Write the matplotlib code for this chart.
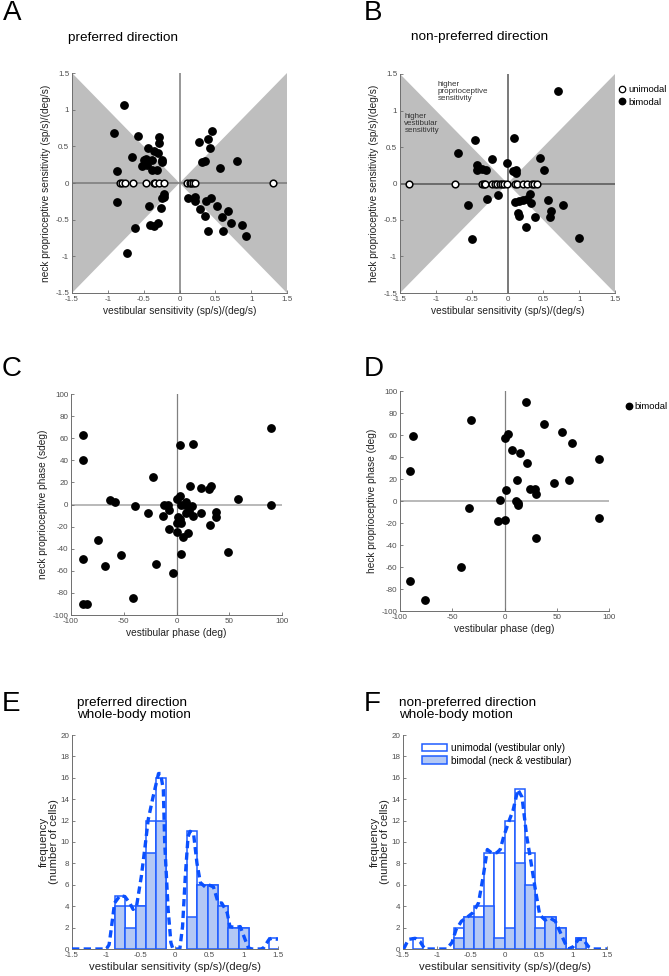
import numpy as np
import matplotlib
matplotlib.use('Agg')
import matplotlib.pyplot as plt
from matplotlib.ticker import FuncFormatter
from matplotlib.patches import Patch
from matplotlib.lines import Line2D

plt.rcParams['font.family'] = ['Liberation Sans', 'DejaVu Sans']
plt.rcParams['axes.unicode_minus'] = False

## Data

# A: preferred direction, sensitivities
prefBiX = [-0.78, -0.91, -0.58, -0.28, -0.28, -0.44, -0.35, -0.30, -0.66, -0.50,
           -0.47, -0.39, -0.25, -0.24, -0.53, -0.46, -0.39, -0.32, -0.87, -0.87,
           -0.21, -0.22, -0.24, -0.42, -0.26, -0.62, -0.41, -0.35, -0.30, -0.73,
           0.46, 0.40, 0.27, 0.43, 0.35, 0.32, 0.57, 0.80, 0.12, 0.21,
           0.22, 0.28, 0.37, 0.44, 0.36, 0.40, 0.53, 0.59, 0.67, 0.61,
           0.72, 0.87, 0.93]
prefBiY = [1.065, 0.68, 0.64, 0.63, 0.54, 0.48, 0.44, 0.41, 0.35, 0.31,
           0.33, 0.31, 0.32, 0.28, 0.23, 0.24, 0.18, 0.18, 0.17, -0.26,
           -0.15, -0.19, -0.20, -0.31, -0.34, -0.61, -0.57, -0.58, -0.55, -0.96,
           0.71, 0.60, 0.56, 0.48, 0.30, 0.28, 0.20, 0.30, -0.20, -0.19,
           -0.25, -0.35, -0.25, -0.20, -0.45, -0.66, -0.31, -0.46, -0.38, -0.65,
           -0.55, -0.57, -0.72]
prefUniX = [-0.83, -0.80, -0.76, -0.65, -0.47, -0.36, -0.34, -0.28, -0.21,
            0.10, 0.14, 0.16, 0.19, 0.21, 1.31]
prefUniY = [0] * len(prefUniX)

# B: non-preferred direction
npBiX = [0.71, -0.45, -0.69, 0.09, 0.46, -0.21, -0.01, -0.42, -0.42, -0.36,
         -0.30, 0.07, 0.12, 0.12, 0.51, -0.13, -0.28, -0.55, -0.49, 0.10,
         0.16, 0.21, 0.27, 0.31, 0.33, 0.14, 0.16, 0.26, 0.38, 0.56,
         0.60, 0.59, 0.77, 1.00]
npBiY = [1.27, 0.59, 0.42, 0.63, 0.35, 0.34, 0.28, 0.25, 0.19, 0.20,
         0.19, 0.17, 0.19, 0.14, 0.19, -0.16, -0.21, -0.30, -0.76, -0.25,
         -0.24, -0.22, -0.21, -0.15, -0.27, -0.41, -0.44, -0.59, -0.46, -0.22,
         -0.37, -0.46, -0.30, -0.74]
npUniX = [-1.37, -0.73, -0.36, -0.33, -0.31, -0.21, -0.17, -0.14, -0.11, -0.08,
          -0.05, -0.01, 0.10, 0.13, 0.21, 0.27, 0.34, 0.37, 0.41]
npUniY = [0] * len(npUniX)

# C: phases, preferred
phPrefX = [-89, -89, -89, -89, -85, -74, -68, -63, -58, -53,
           -41, -39, -27, -22, -19, -13, -12, -8, -7, -7,
           -3, 0, 3, 3, 1, 0, 3, 4, 0, 4,
           6, 4, 8, 9, 9, 11, 13, 12, 15, 16,
           16, 23, 23, 31, 33, 32, 37, 37, 49, 58,
           90, 90]
phPrefY = [63, 40, -49, -90, -90, -32, -56, 4, 2, -46,
           -85, -1, -8, 25, -54, -10, 0, 0, -5, -22,
           -62, 5, 8, 54, -11, -17, -13, -17, -25, 0,
           -29, -45, 0, 2, -8, -26, 17, -6, -1, -10,
           55, 15, -8, 14, 17, -19, -7, -11, -43, 5,
           69, 0]

# D: phases, non-preferred
phNpX = [-90, -88, -90, -76, -42, -34, -32, -6, -4, 0,
         0, 3, 1, 7, 11, 12, 13, 13, 15, 21,
         22, 24, 29, 30, 30, 38, 47, 55, 62, 65,
         90, 90]
phNpY = [27, 59, -73, -90, -60, -6, 74, -18, 1, -17,
         57, 61, 10, 46, 0, 19, -2, -4, 44, 90,
         35, 11, 11, 6, -34, 70, 16, 63, 19, 53,
         38, -15]

# E: histogram preferred
histPrefCenters = [-0.8, -0.65, -0.5, -0.35, -0.2, -0.05, 0.1, 0.25, 0.4, 0.55,
                   0.7, 0.85, 1.0, 1.15, 1.3, 1.45]
histPrefAll = [5, 4, 4, 12, 16, 0, 0, 11, 6, 6, 4, 2, 2, 0, 0, 1]
histPrefBi = [4, 2, 4, 9, 12, 0, 0, 3, 6, 6, 4, 2, 2, 0, 0, 0]
fitPrefX = [-1.5, -1.0, -0.96, -0.93, -0.88, -0.80, -0.73, -0.66, -0.61, -0.56,
            -0.49, -0.43, -0.39, -0.32, -0.24, -0.21, -0.17, -0.15, -0.10, -0.06,
            -0.03, 0.07, 0.11, 0.15, 0.19, 0.22, 0.27, 0.32, 0.37, 0.44,
            0.49, 0.56, 0.63, 0.68, 0.76, 0.80, 0.88, 0.95, 1.02, 1.07,
            1.12, 1.25, 1.29, 1.37, 1.41, 1.5]
fitPrefY = [0, 0, 0.4, 1.8, 4.3, 5.0, 4.9, 4.3, 3.7, 4.0,
            6.8, 9.9, 12.1, 14.2, 16.4, 16.4, 14.9, 9.9, 3.7, 0.6,
            0, 0, 2.1, 6.8, 10.5, 11, 10.8, 8.0, 6.2, 5.8,
            6.0, 5.8, 4.3, 4.3, 3.4, 2.1, 2.0, 2.1, 0.9, 0.1,
            0, 0, 0.1, 0.9, 1.0, 0.9]

# F: histogram non-preferred
histNpCenters = [-1.28, -1.13, -0.98, -0.83, -0.68, -0.53, -0.38, -0.23, -0.08, 0.07,
                 0.22, 0.37, 0.52, 0.67, 0.82, 0.97, 1.12]
histNpAll = [1, 0, 0, 0, 2, 3, 4, 9, 9, 12, 15, 9, 3, 3, 2, 0, 1]
histNpBi = [0, 0, 0, 0, 1, 3, 3, 4, 1, 2, 8, 6, 2, 3, 2, 0, 1]
fitNpX = [-1.49, -1.42, -1.32, -1.25, -1.18, -0.86, -0.78, -0.72, -0.64, -0.55,
          -0.47, -0.39, -0.32, -0.26, -0.20, -0.12, -0.07, -0.02, 0.05, 0.12,
          0.19, 0.25, 0.32, 0.37, 0.44, 0.51, 0.59, 0.66, 0.74, 0.81,
          0.88, 0.93, 1.0, 1.08, 1.15, 1.23, 1.30, 1.5]
fitNpY = [0, 0.9, 1.0, 0.7, 0, 0, 0.6, 1.8, 2.6, 3.0,
          3.4, 4.3, 6.8, 9.3, 9.0, 9.0, 9.3, 10.5, 11.8, 13,
          14.9, 14.2, 10.5, 8.6, 5.8, 3.2, 2.7, 2.9, 2.6, 1.6,
          0.6, 0, 0.2, 0.9, 0.9, 0.2, 0, 0]

binWidth = 0.15

## Style
W, H = 669, 976
tickGrey = '#4d4d4d'
spineGrey = '#6e6e6e'
shadeGrey = '#bebebe'
blueEdge = '#1f5cff'
blueFill = '#b3c8f5'
blueLine = '#0a50ff'
fmt = FuncFormatter(lambda v, p: '%g' % v)

fig = plt.figure(figsize=(W / 100, H / 100), dpi=100)


def px_axes(left, top, right, bottom):
    return fig.add_axes([left / W, 1 - bottom / H, (right - left) / W, (bottom - top) / H])


def style_axes(ax, xlabel, ylabel, labsize=7.3, ypad=3):
    for s in ['top', 'right']:
        ax.spines[s].set_visible(False)
    for s in ['left', 'bottom']:
        ax.spines[s].set_color(spineGrey)
        ax.spines[s].set_linewidth(0.7)
    ax.tick_params(direction='in', length=2, width=0.6, colors=spineGrey,
                   labelsize=5.8, labelcolor=tickGrey, pad=2)
    ax.xaxis.set_major_formatter(fmt)
    ax.yaxis.set_major_formatter(fmt)
    ax.set_xlabel(xlabel, fontsize=labsize, color='#222222', labelpad=2)
    ax.set_ylabel(ylabel, fontsize=labsize, color='#222222', labelpad=ypad)


def sens_panel(ax, biX, biY, uniX, uniY, ylabel, lineCol):
    lim = 1.5
    ax.fill([-lim, 0, -lim], [lim, 0, -lim], color=shadeGrey, lw=0, zorder=0)
    ax.fill([lim, 0, lim], [lim, 0, -lim], color=shadeGrey, lw=0, zorder=0)
    ax.axhline(0, color=lineCol, lw=1.1, zorder=1)
    ax.axvline(0, color=lineCol, lw=1.1, zorder=1)
    ax.plot(biX, biY, 'o', color='black', ms=5.3, zorder=3, label='bimodal')
    ax.plot(uniX, uniY, 'o', mfc='white', mec='black', mew=1.1, ms=4.8, zorder=4,
            label='unimodal')
    ax.set_xlim(-lim, lim)
    ax.set_ylim(-lim, lim)
    ax.set_xticks(np.arange(-1.5, 1.51, 0.5))
    ax.set_yticks(np.arange(-1.5, 1.51, 0.5))
    style_axes(ax, 'vestibular sensitivity (sp/s)/(deg/s)', ylabel)


def phase_panel(ax, px, py, ylabel):
    ax.axhline(0, color='#a6a6a6', lw=1.1, zorder=1)
    ax.axvline(0, color='#808080', lw=0.9, zorder=1)
    ax.plot(px, py, 'o', color='black', ms=5.3, zorder=3)
    ax.set_xlim(-100, 100)
    ax.set_ylim(-100, 100)
    ax.set_xticks(np.arange(-100, 101, 50))
    ax.set_yticks(np.arange(-100, 101, 20))
    style_axes(ax, 'vestibular phase (deg)', ylabel)


def hist_panel(ax, centers, allCounts, biCounts, fitX, fitY):
    c = np.array(centers)
    a = np.array(allCounts)
    b = np.array(biCounts)
    ax.bar(c[a > 0], a[a > 0], width=binWidth, facecolor='white', edgecolor=blueEdge,
           lw=1.1, zorder=2)
    ax.bar(c[b > 0], b[b > 0], width=binWidth, facecolor=blueFill, edgecolor=blueEdge,
           lw=1.1, zorder=3)
    ax.plot(fitX, fitY, color=blueLine, lw=2.4, dashes=(2.2, 1.3), zorder=4,
            solid_capstyle='butt', dash_capstyle='butt')
    ax.set_xlim(-1.5, 1.5)
    ax.set_ylim(0, 20)
    ax.set_xticks(np.arange(-1.5, 1.51, 0.5))
    ax.set_yticks(np.arange(0, 21, 2))
    style_axes(ax, 'vestibular sensitivity (sp/s)/(deg/s)',
               'frequency\n(number of cells)', labsize=8.2, ypad=1)
    ax.yaxis.label.set_linespacing(0.95)


## Panels
axA = px_axes(72, 73, 287, 293)
sens_panel(axA, prefBiX, prefBiY, prefUniX, prefUniY,
           'neck proprioceptive sensitivity (sp/s)/(deg/s)', '#7a7a7a')

axB = px_axes(400, 74, 615, 293)
sens_panel(axB, npBiX, npBiY, npUniX, npUniY,
           'heck proprioceptive sensitivity (sp/s)/(deg/s)', '#555555')
axB.text(-0.97, 1.40, 'higher\nproprioceptive\nsensitivity', fontsize=5.8,
         color='#333333', va='top', ha='left', linespacing=1.0)
axB.text(-1.44, 0.97, 'higher\nvestibular\nsensitivity', fontsize=5.8,
         color='#333333', va='top', ha='left', linespacing=1.0)
hB = [Line2D([], [], ls='', marker='o', mfc='white', mec='black', mew=0.9, ms=4.6),
      Line2D([], [], ls='', marker='o', color='black', ms=4.6)]
axB.legend(hB, ['unimodal', 'bimodal'], loc='upper left', bbox_to_anchor=(0.99, 0.98),
           frameon=False, fontsize=6.8, handlelength=0.6, handletextpad=0.3,
           labelspacing=0.4, borderpad=0.2)

axC = px_axes(71, 394, 282, 615)
phase_panel(axC, phPrefX, phPrefY, 'neck proprioceptive phase (sdeg)')

axD = px_axes(400, 391, 609, 611)
phase_panel(axD, phNpX, phNpY, 'heck proprioceptive phase (deg)')
axD.legend([Line2D([], [], ls='', marker='o', color='black', ms=4.6)], ['bimodal'],
           loc='upper left', bbox_to_anchor=(1.05, 0.98), frameon=False, fontsize=6.8,
           handlelength=0.6, handletextpad=0.3, borderpad=0.2)

axE = px_axes(72, 735, 278, 949)
hist_panel(axE, histPrefCenters, histPrefAll, histPrefBi, fitPrefX, fitPrefY)

axF = px_axes(403, 735, 607, 949)
hist_panel(axF, histNpCenters, histNpAll, histNpBi, fitNpX, fitNpY)
hF = [Patch(facecolor='white', edgecolor=blueEdge, lw=1.1),
      Patch(facecolor=blueFill, edgecolor=blueEdge, lw=1.1)]
axF.legend(hF, ['unimodal (vestibular only)', 'bimodal (neck & vestibular)'],
           loc='upper left', bbox_to_anchor=(0.06, 0.995), frameon=False, fontsize=7.2,
           handlelength=2.5, handleheight=0.8, handletextpad=0.4, labelspacing=0.25,
           borderpad=0.2)

## Titles and panel letters
def ftext(x, y, s, **kw):
    fig.text(x / W, 1 - y / H, s, **kw)


ftext(3, 0, 'A', fontsize=20, va='top')
ftext(364, 0, 'B', fontsize=20, va='top')
ftext(2, 356, 'C', fontsize=20, va='top')
ftext(364, 356, 'D', fontsize=20, va='top')
ftext(2, 691, 'E', fontsize=20, va='top')
ftext(364, 691, 'F', fontsize=20, va='top')

ftext(68, 38, 'preferred direction', fontsize=9.7, va='center')
ftext(411, 37, 'non-preferred direction', fontsize=9.7, va='center')
ftext(77, 697, 'preferred direction\nwhole-body motion', fontsize=9.7, va='top',
      linespacing=1.0)
ftext(399, 697, 'non-preferred direction\nwhole-body motion', fontsize=9.7, va='top',
      linespacing=1.0)

fig.savefig('out.png', dpi=100)
